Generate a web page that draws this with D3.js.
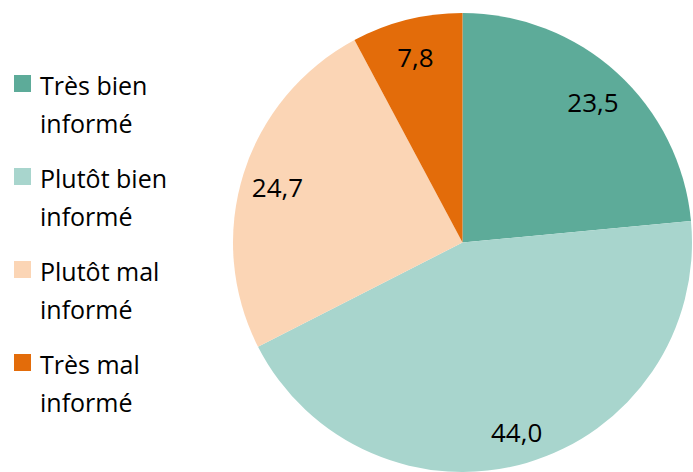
<!DOCTYPE html>
<html><head><meta charset="utf-8">
<script src="https://cdn.jsdelivr.net/npm/d3@7"></script>
<style>body{margin:0;background:#fff}svg{display:block}text{font-family:"Open Sans",sans-serif;fill:#000}</style>
</head><body>
<svg id="c" width="693" height="472"></svg>
<script>
const categories = ["Très bien informé","Plutôt bien informé","Plutôt mal informé","Très mal informé"];
const legendLines = [["Très bien","informé"],["Plutôt bien","informé"],["Plutôt mal","informé"],["Très mal","informé"]];
const values = [23.5, 44.0, 24.7, 7.8];
const labels = ["23,5","44,0","24,7","7,8"];
const colors = ["#5dab99","#a8d5cd","#fbd5b5","#e36c0a"];

const svg = d3.select("#c");
const cx = 462.5, cy = 242.5, r = 229.5;
const pie = d3.pie().sort(null).value(d => d)(values);
const arc = d3.arc().innerRadius(0).outerRadius(r);
const labelArc = d3.arc().innerRadius(r*0.845).outerRadius(r*0.845);
const g = svg.append("g").attr("transform",`translate(${cx},${cy})`);
g.selectAll("path").data(pie).join("path").attr("d",arc).attr("fill",(d,i)=>colors[i]);
g.selectAll("text").data(pie).join("text")
  .attr("transform",d=>`translate(${labelArc.centroid(d)})`)
  .attr("text-anchor","middle").attr("dy","0.5em")
  .style("font-size","26px").text((d,i)=>labels[i]);

const leg = svg.append("g");
const rowY = d3.scaleBand().domain(categories).range([60, 432]);
categories.forEach((c,i)=>{
  const y0 = rowY(c);
  leg.append("rect").attr("x",14).attr("y",y0+15).attr("width",17).attr("height",17).attr("fill",colors[i]);
  legendLines[i].forEach((t,j)=>{
    leg.append("text").attr("x",40).attr("y",y0+35+j*38).style("font-size","25px").text(t);
  });
});
</script>
</body></html>
